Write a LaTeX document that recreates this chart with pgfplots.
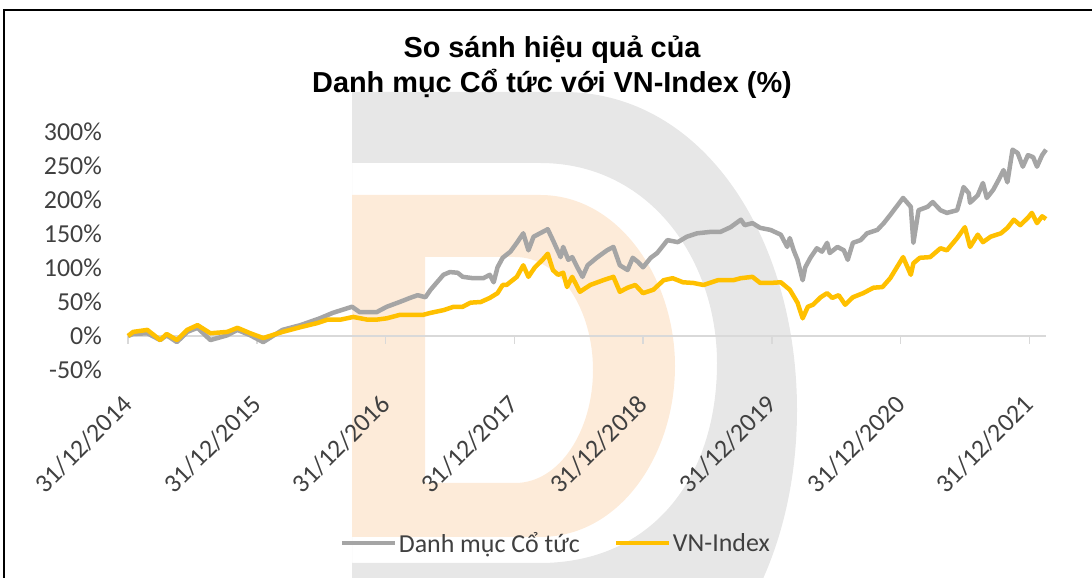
\documentclass[border=0pt]{standalone}
\usepackage{pgfplots}
\pgfplotsset{compat=1.18}
\usepackage{pgfplotstable}
\usepackage{fontspec}
\setmainfont{Carlito}
\newfontfamily\titlefont{Liberation Sans}
\definecolor{gline}{HTML}{A5A5A5}
\definecolor{yline}{HTML}{FFC000}
\definecolor{wmgrey}{HTML}{E7E7E7}
\definecolor{wmorange}{HTML}{FDEBD9}
\definecolor{txt}{HTML}{404040}
\definecolor{axgrey}{HTML}{D9D9D9}

\pgfplotstableread{
x y
0.00 0
0.04 3
0.15 4
0.25 -6
0.30 1
0.38 -9
0.46 6
0.54 12
0.64 -6
0.77 1
0.85 9
0.95 1
1.05 -9
1.20 9
1.34 16
1.49 26
1.59 34
1.74 43
1.80 35
1.93 35
2.01 43
2.11 50
2.19 56
2.25 60
2.31 57
2.35 68
2.40 79
2.45 90
2.50 94
2.56 93
2.60 87
2.68 85
2.76 85
2.81 90
2.84 79
2.87 101
2.91 115
2.97 124
3.02 137
3.07 151
3.11 126
3.15 146
3.22 153
3.26 157
3.30 141
3.36 116
3.38 131
3.42 112
3.45 116
3.49 101
3.53 87
3.57 104
3.64 115
3.72 126
3.77 131
3.82 104
3.88 97
3.92 115
3.96 109
4.00 101
4.06 115
4.11 122
4.19 141
4.27 138
4.34 146
4.42 151
4.52 153
4.60 153
4.68 160
4.76 171
4.79 163
4.85 166
4.91 159
4.99 156
5.07 149
5.12 131
5.14 144
5.17 126
5.20 112
5.24 82
5.26 101
5.30 115
5.35 129
5.39 124
5.43 137
5.45 122
5.51 131
5.56 126
5.59 112
5.63 137
5.69 141
5.74 151
5.82 156
5.87 166
5.92 178
6.02 203
6.08 190
6.10 137
6.14 185
6.21 190
6.25 197
6.31 185
6.36 181
6.44 185
6.49 219
6.53 210
6.54 196
6.60 207
6.64 225
6.67 203
6.72 215
6.76 229
6.80 244
6.83 226
6.87 274
6.91 269
6.95 249
6.99 266
7.03 263
7.06 249
7.10 266
7.13 274
}\danhmuc

\pgfplotstableread{
x y
0.00 0
0.04 6
0.15 9
0.25 -6
0.30 3
0.38 -6
0.46 9
0.54 16
0.64 4
0.77 6
0.85 12
0.95 4
1.05 -3
1.20 6
1.34 13
1.47 19
1.55 24
1.65 24
1.75 28
1.86 24
1.93 24
2.01 26
2.11 31
2.19 31
2.29 31
2.35 34
2.45 38
2.53 43
2.60 43
2.66 49
2.74 50
2.81 56
2.87 63
2.91 75
2.94 75
3.02 87
3.07 104
3.11 87
3.16 101
3.22 112
3.26 121
3.30 97
3.34 90
3.38 93
3.41 72
3.45 87
3.51 65
3.59 75
3.69 82
3.77 87
3.82 65
3.88 71
3.94 75
4.00 63
4.08 68
4.16 82
4.23 85
4.31 79
4.39 78
4.47 75
4.58 82
4.70 82
4.76 85
4.85 87
4.91 78
4.99 78
5.07 79
5.14 68
5.20 49
5.24 26
5.28 43
5.32 46
5.38 57
5.43 63
5.47 56
5.52 60
5.57 46
5.63 57
5.71 63
5.79 71
5.86 72
5.92 85
6.02 116
6.08 90
6.10 107
6.15 115
6.23 116
6.31 129
6.36 126
6.44 144
6.50 160
6.54 131
6.60 149
6.64 138
6.70 146
6.78 151
6.83 159
6.88 171
6.93 163
6.99 174
7.02 181
7.06 166
7.10 176
7.13 172
}\vnindex

\begin{document}
\begin{tikzpicture}[x=1bp,y=1bp]
\path[use as bounding box] (0,0) rectangle (1092,578);
\begin{scope}
\clip (0,0) rectangle (1092,578);
\fill[wmgrey, even odd rule]
  (352,486) -- (563,486) .. controls (705,486) and (797,338) .. (797,168)
  .. controls (797,-2) and (705,-147) .. (563,-147) -- (352,-147) -- cycle
  (352,415) -- (540,415) .. controls (650,415) and (717,318) .. (717,215)
  .. controls (717,98) and (650,15) .. (540,15) -- (352,15) -- cycle;
\fill[wmorange, even odd rule]
  (352,383) -- (540,383) .. controls (620,383) and (675,298) .. (675,212)
  .. controls (675,123) and (620,41) .. (540,41) -- (352,41) -- cycle
  (425,321) -- (515,321) .. controls (560,321) and (593,268) .. (593,208)
  .. controls (593,148) and (560,95) .. (515,95) -- (425,95) -- cycle;
\end{scope}
\draw[black, line width=2] (4,0) -- (4,568) -- (1092,568);

\node[anchor=base, font=\titlefont\bfseries\fontsize{29}{29}\selectfont] at (552,520) {So sánh hiệu quả của};
\node[anchor=base, font=\titlefont\bfseries\fontsize{29}{29}\selectfont] at (552,485) {Danh mục Cổ tức với VN-Index (\%)};

\begin{axis}[
  at={(128bp,208bp)}, anchor=south west,
  scale only axis, width=918bp, height=238bp,
  xmin=0, xmax=7.13, ymin=-50, ymax=300,
  axis line style={draw=none},
  major tick length=0pt,
  xtick={0,1,2,3,4,5,6,7},
  xticklabels={31/12/2014,31/12/2015,31/12/2016,31/12/2017,31/12/2018,31/12/2019,31/12/2020,31/12/2021},
  ytick={-50,0,50,100,150,200,250,300},
  yticklabels={-50\%,0\%,50\%,100\%,150\%,200\%,250\%,300\%},
  tick label style={font=\fontsize{26}{26}\selectfont, text=txt},
  yticklabel style={anchor=east, inner sep=0pt, xshift=-26bp},
  xticklabel style={rotate=45, anchor=east, inner sep=0pt},
  xticklabel shift=30bp,
  clip=false,
  legend style={at={(0.466,-0.727)}, anchor=center, draw=none, fill=none,
    font=\fontsize{26}{26}\selectfont, text=txt,
    /tikz/every even column/.append style={column sep=32bp},
    nodes={inner sep=2bp}},
  legend columns=2,
  legend image code/.code={\draw[#1, line width=4bp] (0bp,0bp) -- (53bp,0bp);},
]
\draw[axgrey, line width=1.5bp] (axis cs:0,0) -- (axis cs:7.13,0);
\pgfplotsinvokeforeach{0,...,7}{\draw[axgrey, line width=1.5bp] (axis cs:#1,0) -- ++(0pt,-8pt);}
\addplot[gline, line width=4.5bp, line join=round] table[x=x,y=y] {\danhmuc};
\addlegendentry{Danh mục Cổ tức}
\addplot[yline, line width=4.5bp, line join=round] table[x=x,y=y] {\vnindex};
\addlegendentry{VN-Index}
\end{axis}
\end{tikzpicture}
\end{document}
